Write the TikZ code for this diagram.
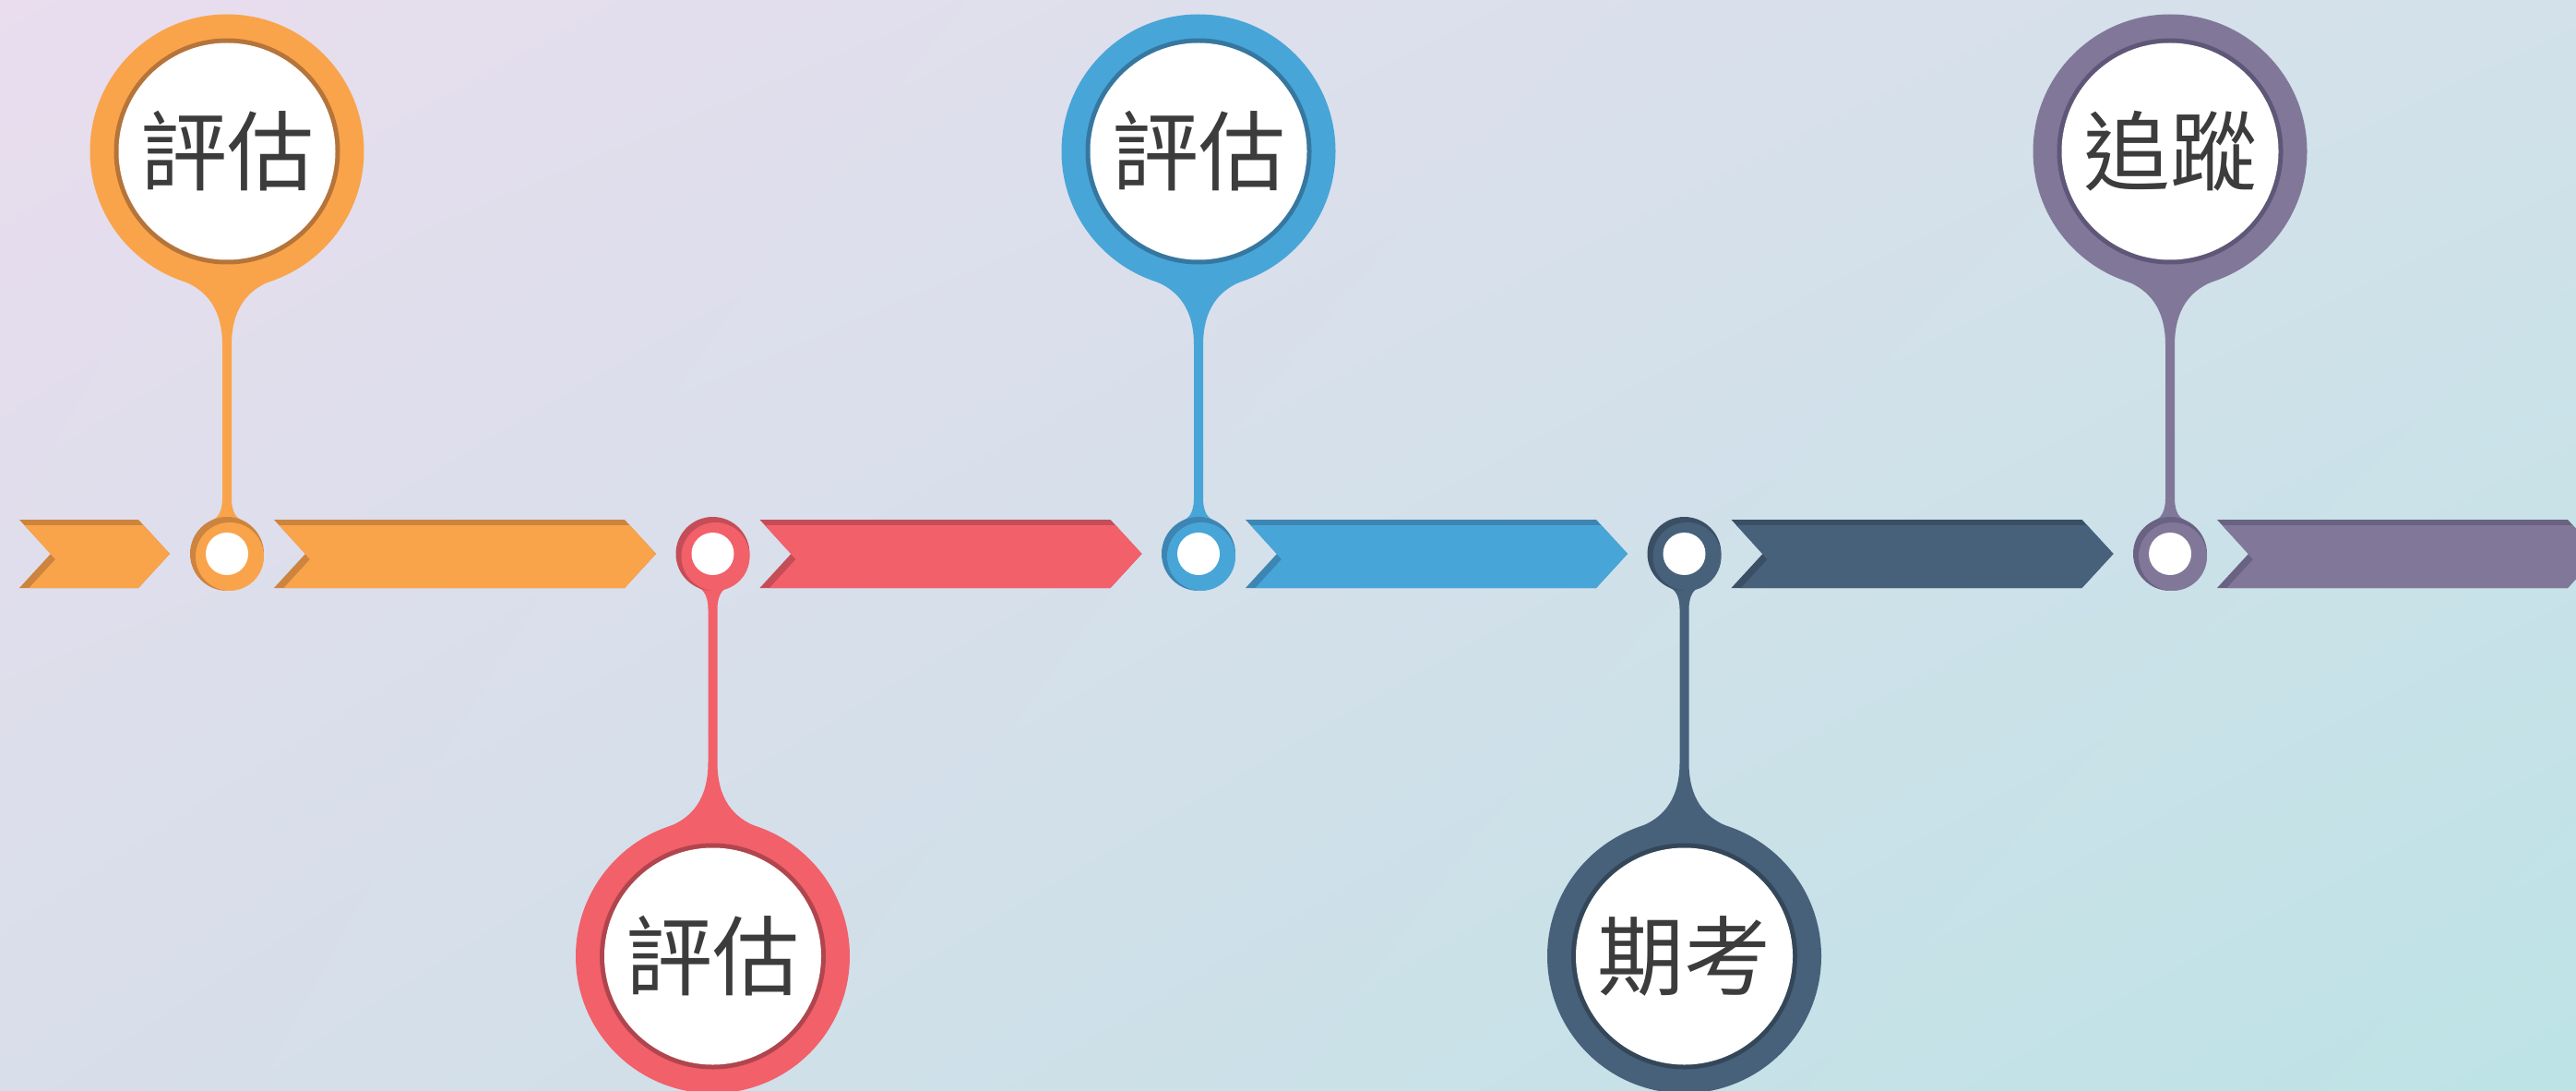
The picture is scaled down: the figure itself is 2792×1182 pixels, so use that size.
\documentclass[tikz,border=0pt]{standalone}
\usepackage{fontspec}
\usetikzlibrary{shadings}
\newfontfamily\cjk{Noto Sans CJK TC}
\definecolor{bgTL}{RGB}{233,221,238}
\definecolor{bgTR}{RGB}{210,225,234}
\definecolor{bgBL}{RGB}{216,222,234}
\definecolor{bgBR}{RGB}{189,227,230}
\definecolor{orM}{RGB}{249,164,75}
\definecolor{orD}{RGB}{204,132,62}
\definecolor{orR}{RGB}{181,116,58}
\definecolor{rdM}{RGB}{242,96,106}
\definecolor{rdD}{RGB}{196,77,87}
\definecolor{rdR}{RGB}{176,69,78}
\definecolor{blM}{RGB}{72,165,216}
\definecolor{blD}{RGB}{61,133,178}
\definecolor{blR}{RGB}{54,119,160}
\definecolor{slM}{RGB}{71,97,123}
\definecolor{slD}{RGB}{58,79,100}
\definecolor{slR}{RGB}{52,71,89}
\definecolor{puM}{RGB}{129,120,153}
\definecolor{puD}{RGB}{106,98,130}
\definecolor{puR}{RGB}{95,87,119}
\definecolor{txt}{RGB}{60,60,60}
\tikzset{lbl/.style={inner sep=0pt,text=txt,font=\cjk\fontsize{94}{94}\selectfont}}
\newcommand\chev[4]{%
 \fill[#4] (#1,563) -- ({#2-34},563) -- (#2,600) -- ({#2-34},637) -- (#1,637) -- ({#1+34},600) -- cycle;
 \fill[#3] ({#1+5.5},569) -- ({#2-28.5},569) -- (#2,600) -- ({#2-34},637) -- ({#1+10.5},637) -- ({#1+39},606) -- cycle;
}
\newcommand\pin[7]{%
 \begin{scope}[shift={(#1,600)},yscale=#2]
  \fill[#3] (-50,-296.5) .. controls (-21.8,-286.4) and (-5,-265) .. (-5,-226) -- (-5,-60)
     .. controls (-5,-50) and (-7.8,-40) .. (-15.2,-37) -- (15.2,-37)
     .. controls (7.8,-40) and (5,-50) .. (5,-60) -- (5,-226)
     .. controls (5,-265) and (21.8,-286.4) .. (50,-296.5) -- cycle;
  \fill[#3] (0,-436) circle[radius=148.5];
  \fill[#5] (0,-436) circle[radius=122.5];
  \fill[white] (0,-436) circle[radius=117.5];
  \node[lbl] (#6) at (0,-436) {#7};
 \end{scope}
 \fill[#4] (#1,600) circle[radius=40];
 \fill[#3] ({#1+3},603) circle[radius=37];
 \fill[white] (#1,600) circle[radius=23];
}
\begin{document}
\begin{tikzpicture}[x=1pt,y=-1pt]
\useasboundingbox (0,0) rectangle (2792,1182);
\clip (0,0) rectangle (2792,1182);
\shade[upper left=bgTL,upper right=bgTR,lower left=bgBL,lower right=bgBR] (0,0) rectangle (2792,1182);
\chev{21}{184}{orM}{orD}
\chev{297}{711}{orM}{orD}
\chev{823.5}{1237.5}{rdM}{rdD}
\chev{1350}{1764}{blM}{blD}
\chev{1876.5}{2290.5}{slM}{slD}
\chev{2403}{2817}{puM}{puD}
\pin{246}{1}{orM}{orD}{orR}{t1}{評估}
\pin{772.5}{-1}{rdM}{rdD}{rdR}{t2}{評估}
\pin{1299}{1}{blM}{blD}{blR}{t3}{評估}
\pin{1825.5}{-1}{slM}{slD}{slR}{t4}{期考}
\pin{2352}{1}{puM}{puD}{puR}{t5}{追蹤}
\end{tikzpicture}
\end{document}
